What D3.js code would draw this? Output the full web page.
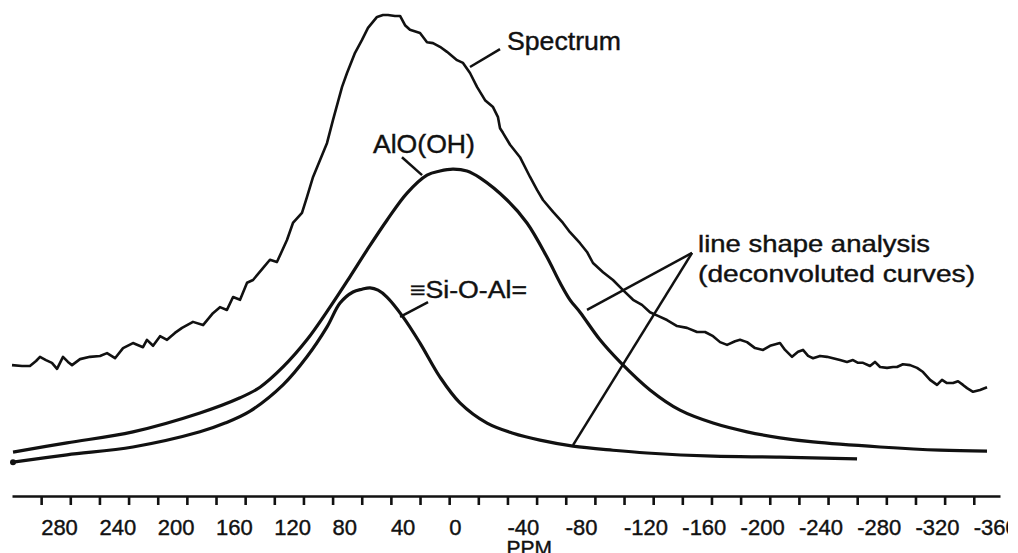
<!DOCTYPE html>
<html>
<head>
<meta charset="utf-8">
<script src="https://cdn.jsdelivr.net/npm/d3@7/dist/d3.min.js"></script>
<style>
  html, body { margin: 0; padding: 0; background: #fff; }
  svg { display: block; overflow: hidden; }
  text { font-family: "Liberation Sans", Arial, sans-serif; fill: #111; stroke: #111; stroke-width: 0.4; }
</style>
</head>
<body>
<svg id="chart"></svg>
<script>
// axis ticks (ppm)
const tickPpm = [280, 260, 240, 220, 200, 180, 160, 140, 120, 100, 80, 60, 40, 20, 0,
  -20, -40, -60, -80, -100, -120, -140, -160, -180, -200, -220, -240, -260, -280, -300, -320, -340, -360];
const labelPpm = [280, 240, 200, 160, 120, 80, 40, 0, -40, -80, -120, -160, -200, -240, -280, -320, -360];

// measured spectrum (ppm, relative intensity)
const spectrumPpm = [300.0, 293.1, 287.7, 283.5, 280.8, 276.7, 272.6, 269.1, 265.0, 261.6, 258.8, 253.3,
  246.5, 239.6, 234.8, 229.3, 223.8, 217.0, 210.1, 207.4, 203.2, 198.4, 193.6, 188.2, 183.3, 175.8,
  168.9, 162.1, 157.3, 152.5, 148.3, 143.5, 138.7, 134.6, 127.8, 123.0, 118.2, 111.3, 107.2, 101.0,
  97.6, 93.4, 88.6, 83.8, 79.7, 73.5, 70.1, 64.6, 59.8, 55.7, 49.5, 45.4, 42.0, 37.2, 33.7, 30.3,
  26.9, 20.0, 15.2, 11.1, 6.3, 1.5, -5.4, -9.5, -14.3, -19.1, -24.6, -30.1, -33.5, -34.9, -36.9,
  -41.8, -48.6, -55.5, -60.3, -64.4, -71.3, -78.1, -82.9, -89.8, -94.6, -98.7, -105.6, -112.4,
  -119.3, -126.2, -132.3, -137.8, -143.3, -149.5, -156.4, -163.2, -170.1, -175.6, -181.1, -185.9,
  -190.7, -196.2, -199.6, -204.4, -209.9, -215.4, -220.2, -227.0, -230.5, -235.3, -239.4, -242.8,
  -246.3, -249.7, -254.5, -259.3, -263.4, -268.2, -273.0, -277.1, -280.6, -284.0, -288.8, -292.2,
  -295.7, -300.5, -304.6, -307.3, -311.4, -316.3, -321.1, -325.2, -330.0, -334.8, -338.2, -341.6,
  -345.8, -349.2, -352.6, -355.4, -359.5, -364.3, -369.1];
const spectrumInt = [22.8, 22.6, 22.6, 23.7, 24.6, 23.9, 23.3, 22.0, 24.6, 23.5, 22.8, 24.1,
  24.6, 24.8, 25.4, 24.3, 26.5, 27.6, 26.7, 28.3, 27.0, 29.1, 28.3, 29.8, 30.9, 32.2,
  31.5, 34.1, 35.4, 34.8, 37.6, 37.0, 40.7, 41.3, 43.9, 45.7, 45.2, 50.0, 53.7, 55.9,
  59.3, 63.7, 67.4, 71.1, 76.1, 83.3, 86.3, 90.7, 93.5, 96.1, 98.5, 98.9, 98.9, 98.7, 98.7, 96.7,
  95.7, 95.0, 93.0, 92.8, 92.0, 90.9, 89.1, 88.5, 86.3, 83.3, 80.4, 78.9, 76.7, 74.3, 73.3,
  70.7, 68.0, 63.7, 60.9, 58.7, 56.1, 53.7, 51.7, 49.3, 47.4, 45.0, 43.0, 41.3,
  39.1, 37.0, 35.9, 34.3, 33.5, 32.6, 31.3, 30.9, 30.0, 30.0, 29.1, 27.8,
  27.2, 28.0, 28.3, 27.8, 26.5, 26.1, 27.0, 27.6, 26.1, 24.6, 25.7, 26.1,
  24.8, 24.3, 24.8, 24.6, 24.3, 23.9, 23.5, 23.9, 23.3, 23.3, 22.6, 23.5,
  22.4, 22.2, 22.4, 22.4, 23.0, 22.8, 22.2, 21.3, 19.6, 18.5, 19.6, 18.9,
  18.9, 19.3, 18.5, 17.8, 17.0, 17.4, 18.0];

// deconvoluted curve: AlO(OH)
const aloohPpm = [299.3, 262.3, 217.0, 171.0, 143.5, 129.8, 114.0, 97.6, 81.8, 68.1, 56.4, 42.7,
  28.9, 15.2, 6.3, -2.6, -12.2, -21.2, -39.7, -53.4, -67.1, -76.1, -82.9, -89.8, -103.5, -117.2,
  -137.8, -158.4, -181.1, -204.4, -227.0, -249.7, -295.7, -336.8, -369.1];
const aloohInt = [3.9, 5.9, 8.3, 12.4, 15.7, 18.0, 22.4, 28.3, 35.4, 42.0, 47.8, 54.3,
  60.2, 64.1, 65.0, 65.4, 65.0, 63.5, 58.7, 53.7, 46.3, 40.7, 37.0, 34.3, 28.3, 23.5,
  17.4, 13.0, 10.2, 8.3, 7.0, 6.1, 5.0, 4.3, 4.1];

// deconvoluted curve: ≡Si-O-Al=
const sioalPpm = [299.3, 262.3, 217.0, 171.0, 153.8, 136.6, 114.0, 97.6, 83.8, 74.9, 66.0, 59.8,
  54.3, 48.8, 42.7, 31.7, 20.0, 6.3, -7.4, -26.0, -43.8, -62.3, -85.0, -112.4, -135.8, -181.1,
  -227.0, -279.9];
const sioalInt = [1.7, 3.3, 5.0, 8.3, 10.2, 12.8, 18.5, 24.6, 31.1, 36.3, 38.7, 39.3,
  39.6, 39.1, 37.6, 33.3, 27.6, 20.2, 14.6, 10.2, 8.0, 6.5, 5.2, 4.3, 3.7, 3.0,
  2.8, 2.4];

// labels with leader lines, in data units [ppm, intensity]
const labelText = ["Spectrum", "AlO(OH)", "\u2261Si-O-Al="];
const labelAt = [[-39.7, 91.3], [52.3, 68.9], [26.9, 37.4]];
const leaderFrom = [[-14.3, 87.6], [18.6, 64.1], [14.5, 36.5]];
const leaderTo = [[-34.9, 91.5], [32.4, 68.0], [33.7, 33.3]];

const noteLines = ["line shape analysis", "(deconvoluted curves)"];
const noteAt = [[-170.8, 47.4], [-170.8, 40.9]];
const noteApex = [-166.7, 47.2];
const noteEnds = [[-94.6, 34.8], [-85.0, 5.4]];

const width = 1008;
const height = 553;
const axisY = 496;

const svg = d3.select("#chart").attr("width", width).attr("height", height);

const x = d3.scaleLinear().domain([300, -378]).range([12, 1000]);
const y = d3.scaleLinear().domain([0, 100]).range([470, 10]);

const zip = (a, b) => a.map((v, i) => [v, b[i]]);
const line = d3.line().x(d => x(d[0])).y(d => y(d[1]));
const smooth = d3.line().x(d => x(d[0])).y(d => y(d[1])).curve(d3.curveCatmullRom.alpha(0.5));

// curves
svg.append("path")
  .datum(zip(spectrumPpm, spectrumInt))
  .attr("d", line)
  .attr("fill", "none").attr("stroke", "#111").attr("stroke-width", 2.6)
  .attr("stroke-linejoin", "round");

svg.append("path")
  .datum(zip(aloohPpm, aloohInt))
  .attr("d", smooth)
  .attr("fill", "none").attr("stroke", "#111").attr("stroke-width", 3.2);

svg.append("path")
  .datum(zip(sioalPpm, sioalInt))
  .attr("d", smooth)
  .attr("fill", "none").attr("stroke", "#111").attr("stroke-width", 3.2);

svg.append("circle")
  .attr("cx", x(sioalPpm[0])).attr("cy", y(sioalInt[0])).attr("r", 3)
  .attr("fill", "#111");

// leaders + labels
svg.selectAll(".leader")
  .data(labelText)
  .enter()
  .append("line")
  .attr("class", "leader")
  .attr("x1", (d, i) => x(leaderFrom[i][0]))
  .attr("y1", (d, i) => y(leaderFrom[i][1]))
  .attr("x2", (d, i) => x(leaderTo[i][0]))
  .attr("y2", (d, i) => y(leaderTo[i][1]))
  .attr("stroke", "#111").attr("stroke-width", 2.5);

const labelSize = [25, 25, 23];
const labelLen = [114, 102, 117];
svg.selectAll(".lbl")
  .data(labelText)
  .enter()
  .append("text")
  .attr("class", "lbl")
  .attr("x", (d, i) => x(labelAt[i][0]))
  .attr("y", (d, i) => y(labelAt[i][1]))
  .attr("font-size", (d, i) => labelSize[i])
  .attr("textLength", (d, i) => labelLen[i])
  .attr("lengthAdjust", "spacingAndGlyphs")
  .text(d => d);

svg.selectAll(".noteLine")
  .data(noteEnds)
  .enter()
  .append("line")
  .attr("x1", x(noteApex[0])).attr("y1", y(noteApex[1]))
  .attr("x2", d => x(d[0])).attr("y2", d => y(d[1]))
  .attr("stroke", "#111").attr("stroke-width", 2.5);

const noteLen = [232, 277];
svg.selectAll(".note")
  .data(noteLines)
  .enter()
  .append("text")
  .attr("x", (d, i) => x(noteAt[i][0]))
  .attr("y", (d, i) => y(noteAt[i][1]))
  .attr("font-size", 24)
  .attr("textLength", (d, i) => noteLen[i])
  .attr("lengthAdjust", "spacingAndGlyphs")
  .text(d => d);

// axis
const axis = svg.append("g")
  .attr("transform", "translate(0," + axisY + ")")
  .call(d3.axisBottom(x).tickValues(tickPpm).tickSize(9).tickFormat("").tickSizeOuter(0));
axis.select(".domain").attr("stroke", "#111").attr("stroke-width", 2.6);
axis.selectAll(".tick line").attr("stroke", "#111").attr("stroke-width", 2.6);

svg.selectAll(".tickLabel")
  .data(labelPpm)
  .enter()
  .append("text")
  .attr("x", d => x(d))
  .attr("y", axisY + 39)
  .attr("font-size", 22)
  .text(d => d);

svg.append("text")
  .attr("x", x(-55))
  .attr("y", 555)
  .attr("text-anchor", "middle")
  .attr("font-size", 21)
  .text("PPM");
</script>
</body>
</html>
